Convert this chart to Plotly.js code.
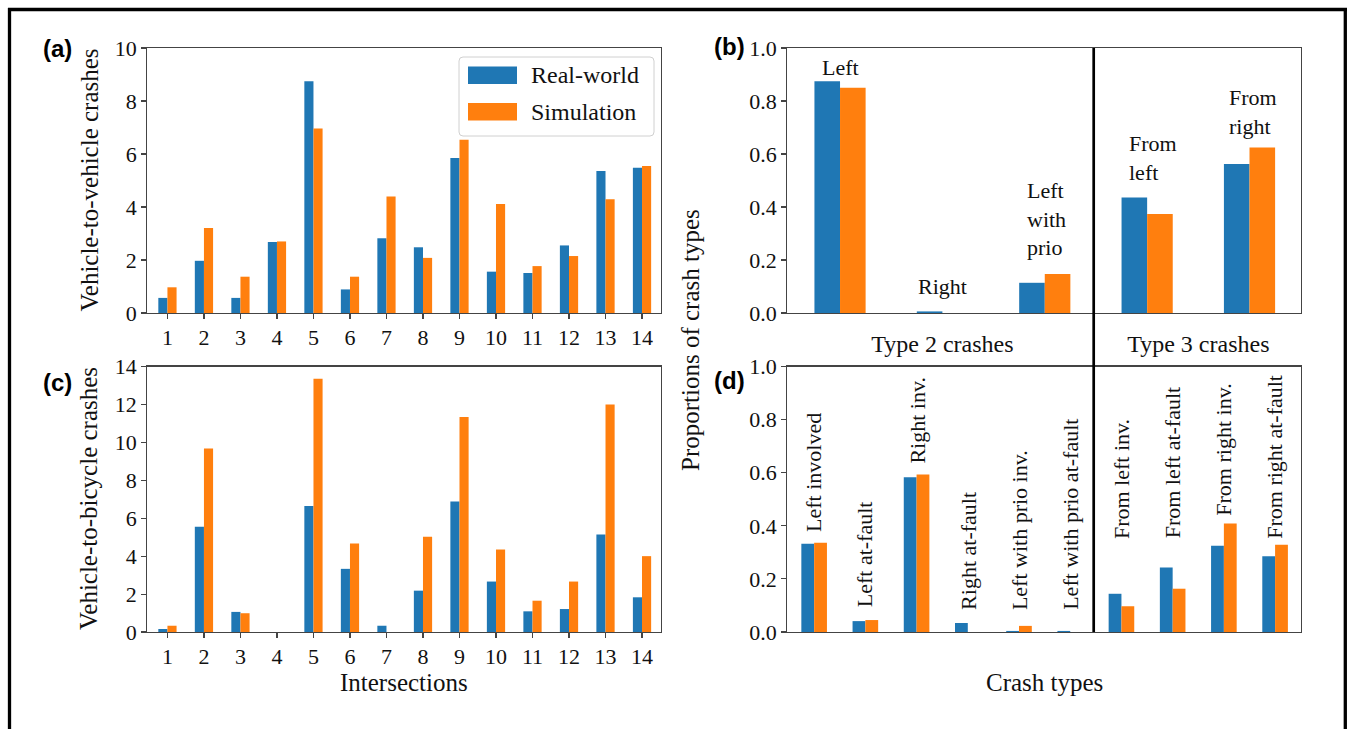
<!DOCTYPE html>
<html><head><meta charset="utf-8">
<script src="https://cdn.plot.ly/plotly-3.0.1.min.js"></script>
<style>html,body{margin:0;padding:0;background:#fff}#chart{width:1348px;height:729px}</style>
</head><body><div id="chart"></div>
<script>
// ---------- data ----------
const intersections = ['1','2','3','4','5','6','7','8','9','10','11','12','13','14'];
const v2vReal = [0.57, 1.97, 0.57, 2.68, 8.75, 0.89, 2.82, 2.48, 5.85, 1.56, 1.51, 2.55, 5.36, 5.48];
const v2vSim  = [0.97, 3.21, 1.37, 2.70, 6.96, 1.37, 4.40, 2.08, 6.54, 4.11, 1.77, 2.15, 4.29, 5.55];
const v2bReal = [0.16, 5.55, 1.06, 0, 6.64, 3.33, 0.33, 2.18, 6.88, 2.66, 1.09, 1.21, 5.14, 1.83];
const v2bSim  = [0.33, 9.68, 0.99, 0, 13.35, 4.67, 0, 5.02, 11.34, 4.35, 1.65, 2.66, 12.0, 4.0];

const crashTypeLabels = ['Left', 'Right', 'Left<br>with<br>prio', 'From<br>left', 'From<br>right'];
const crashTypeReal = [0.875, 0.006, 0.114, 0.436, 0.562];
const crashTypeSim  = [0.850, 0.0, 0.147, 0.374, 0.625];
const groupTickLabels = ['Type 2 crashes', 'Type 3 crashes'];

const roleLabels = ['Left involved', 'Left at-fault', 'Right inv.', 'Right at-fault',
  'Left with prio inv.', 'Left with prio at-fault', 'From left inv.', 'From left at-fault',
  'From right inv.', 'From right at-fault'];
const roleReal = [0.332, 0.041, 0.583, 0.034, 0.004, 0.004, 0.144, 0.243, 0.325, 0.285];
const roleSim  = [0.336, 0.045, 0.593, 0.0, 0.023, 0.0, 0.097, 0.163, 0.409, 0.329];

const seriesNames = ['Real-world', 'Simulation'];
const yTicksA = [0, 2, 4, 6, 8, 10];
const yTicksC = [0, 2, 4, 6, 8, 10, 12, 14];
const yTicksP = [0, 0.2, 0.4, 0.6, 0.8, 1.0];

// ---------- layout helpers (pixel -> paper) ----------
const W = 1348, H = 729;
const px = v => v / W;
const py = v => 1 - v / H;
const BLUE = '#1f77b4', ORANGE = '#ff7f0e';
const SERIF = 'Liberation Serif';
const SANS = 'Liberation Sans';

// label anchor placements (layout, not data)
const crashTypeLabelY = [0.870, 0.044, 0.191, 0.474, 0.650];
const crashTypeLabelDX = [0, 0, 0.02, 0.06, 0.03];
const roleLabelY = [0.368, 0.087, 0.627, 0.075, 0.075, 0.075, 0.344, 0.344, 0.430, 0.344];

const idx = arr => arr.map((_, i) => i);

function bars(x, y, color, name, xa, ya) {
  return {type: 'bar', x: x, y: y, name: name, xaxis: xa, yaxis: ya,
    marker: {color: color, line: {width: 0}}, showlegend: false, hoverinfo: 'skip'};
}

const data = [
  bars(idx(intersections), v2vReal, BLUE, seriesNames[0], 'x', 'y'),
  bars(idx(intersections), v2vSim, ORANGE, seriesNames[1], 'x', 'y'),
  bars(idx(crashTypeLabels), crashTypeReal, BLUE, seriesNames[0], 'x2', 'y2'),
  bars(idx(crashTypeLabels), crashTypeSim, ORANGE, seriesNames[1], 'x2', 'y2'),
  bars(idx(intersections), v2bReal, BLUE, seriesNames[0], 'x3', 'y3'),
  bars(idx(intersections), v2bSim, ORANGE, seriesNames[1], 'x3', 'y3'),
  bars(idx(roleLabels), roleReal, BLUE, seriesNames[0], 'x4', 'y4'),
  bars(idx(roleLabels), roleSim, ORANGE, seriesNames[1], 'x4', 'y4')
];

const axBase = {
  showline: true, mirror: true, linecolor: '#444', linewidth: 1.3,
  showgrid: false, zeroline: false, ticks: 'outside', ticklen: 4.5,
  tickcolor: '#444', tickwidth: 1.1,
  tickfont: {family: SERIF, size: 22, color: '#111'}, fixedrange: true
};
const dA = [px(147), px(661)], dB = [px(787), px(1300.7)];
const rTop = [py(313), py(48)], rBot = [py(632), py(366.5)];

const layout = {
  width: W, height: H, margin: {l: 0, r: 0, t: 0, b: 0},
  paper_bgcolor: '#fff', plot_bgcolor: '#fff',
  barmode: 'group', bargap: 0.5, bargroupgap: 0, showlegend: false,
  font: {family: SERIF, color: '#111'},
  xaxis: Object.assign({}, axBase, {domain: dA, anchor: 'y', range: [-0.56, 13.52],
    tickvals: idx(intersections), ticktext: intersections}),
  yaxis: Object.assign({}, axBase, {domain: rTop, anchor: 'x', range: [0, 10], tickvals: yTicksA}),
  xaxis2: Object.assign({}, axBase, {domain: dB, anchor: 'y2', range: [-0.518, 4.5],
    ticks: '', tickvals: [1, 3.5], ticktext: groupTickLabels, ticklabelstandoff: 9,
    tickfont: {family: SERIF, size: 24, color: '#111'}}),
  yaxis2: Object.assign({}, axBase, {domain: rTop, anchor: 'x2', range: [0, 1], tickvals: yTicksP, tickformat: '.1f'}),
  xaxis3: Object.assign({}, axBase, {domain: dA, anchor: 'y3', range: [-0.56, 13.52],
    tickvals: idx(intersections), ticktext: intersections}),
  yaxis3: Object.assign({}, axBase, {domain: rBot, anchor: 'x3', range: [0, 14], tickvals: yTicksC}),
  xaxis4: Object.assign({}, axBase, {domain: dB, anchor: 'y4', range: [-0.53, 9.5],
    ticks: '', showticklabels: false}),
  yaxis4: Object.assign({}, axBase, {domain: rBot, anchor: 'x4', range: [0, 1], tickvals: yTicksP, tickformat: '.1f'}),
  shapes: [],
  annotations: []
};

// figure frame
const frame = {type: 'line', xref: 'paper', yref: 'paper', line: {color: '#000', width: 3.3}};
layout.shapes.push(Object.assign({}, frame, {x0: px(9.5), x1: px(9.5), y0: py(8), y1: py(735)}));
layout.shapes.push(Object.assign({}, frame, {x0: px(8), x1: px(1347), y0: py(9.5), y1: py(9.5)}));
layout.shapes.push(Object.assign({}, frame, {x0: px(1345.3), x1: px(1345.3), y0: py(8), y1: py(735)}));
// separator between type 2 and type 3
layout.shapes.push({type: 'line', xref: 'paper', yref: 'paper',
  x0: px(1093.7), x1: px(1093.7), y0: py(632), y1: py(48), line: {color: '#000', width: 2.7}});

// custom legend for panel (a)
function roundRect(x0, y0, x1, y1, r) {
  const X = v => px(v), Y = v => py(v);
  return `M${X(x0 + r)},${Y(y0)} L${X(x1 - r)},${Y(y0)} Q${X(x1)},${Y(y0)} ${X(x1)},${Y(y0 + r)} ` +
    `L${X(x1)},${Y(y1 - r)} Q${X(x1)},${Y(y1)} ${X(x1 - r)},${Y(y1)} L${X(x0 + r)},${Y(y1)} ` +
    `Q${X(x0)},${Y(y1)} ${X(x0)},${Y(y1 - r)} L${X(x0)},${Y(y0 + r)} Q${X(x0)},${Y(y0)} ${X(x0 + r)},${Y(y0)} Z`;
}
layout.shapes.push({type: 'path', xref: 'paper', yref: 'paper', path: roundRect(459, 57, 654, 136, 4),
  fillcolor: 'rgba(255,255,255,0.85)', line: {color: '#d0d0d0', width: 1}});
[[BLUE, 66.5, 84, 75.5], [ORANGE, 103, 120.5, 111.5]].forEach((e, i) => {
  layout.shapes.push({type: 'rect', xref: 'paper', yref: 'paper', x0: px(468), x1: px(517),
    y0: py(e[2]), y1: py(e[1]), fillcolor: e[0], line: {width: 0}});
  layout.annotations.push({xref: 'paper', yref: 'paper', x: px(529), y: py(e[3]), xanchor: 'left',
    yanchor: 'middle', text: seriesNames[i], showarrow: false, font: {family: SERIF, size: 24, color: '#111'}});
});

// panel letters
[['(a)', 57, 48], ['(c)', 57, 382], ['(b)', 729, 47], ['(d)', 729, 381]].forEach(p => {
  layout.annotations.push({xref: 'paper', yref: 'paper', x: px(p[1]), y: py(p[2]), xanchor: 'center',
    yanchor: 'middle', text: '<b>' + p[0] + '</b>', showarrow: false, font: {family: SANS, size: 24, color: '#000'}});
});

// axis titles
const titleFont = {family: SERIF, size: 25, color: '#111'};
layout.annotations.push({xref: 'paper', yref: 'paper', x: px(89), y: py(180.5), textangle: -90,
  text: 'Vehicle-to-vehicle crashes', showarrow: false, font: titleFont, xanchor: 'center', yanchor: 'middle'});
layout.annotations.push({xref: 'paper', yref: 'paper', x: px(89), y: py(499), textangle: -90,
  text: 'Vehicle-to-bicycle crashes', showarrow: false, font: titleFont, xanchor: 'center', yanchor: 'middle'});
layout.annotations.push({xref: 'paper', yref: 'paper', x: px(691), y: py(340), textangle: -90,
  text: 'Proportions of crash types', showarrow: false, font: titleFont, xanchor: 'center', yanchor: 'middle'});
layout.annotations.push({xref: 'paper', yref: 'paper', x: px(404), y: py(682),
  text: 'Intersections', showarrow: false, font: titleFont, xanchor: 'center', yanchor: 'middle'});
layout.annotations.push({xref: 'paper', yref: 'paper', x: px(1044), y: py(682),
  text: 'Crash types', showarrow: false, font: titleFont, xanchor: 'center', yanchor: 'middle'});

// bar labels panel (b)
crashTypeLabels.forEach((t, i) => {
  layout.annotations.push({xref: 'x2', yref: 'y2', x: i + crashTypeLabelDX[i], y: crashTypeLabelY[i], text: t,
    showarrow: false, xanchor: 'center', yanchor: 'bottom', align: 'left',
    font: {family: SERIF, size: 22, color: '#111'}});
});
// bar labels panel (d)
roleLabels.forEach((t, i) => {
  layout.annotations.push({xref: 'x4', yref: 'y4', x: i, y: roleLabelY[i], text: t, showarrow: false,
    textangle: -90, xanchor: 'center', yanchor: 'bottom', font: {family: SERIF, size: 22, color: '#111'}});
});

Plotly.newPlot('chart', data, layout, {staticPlot: true, displayModeBar: false});
</script>
</body></html>
